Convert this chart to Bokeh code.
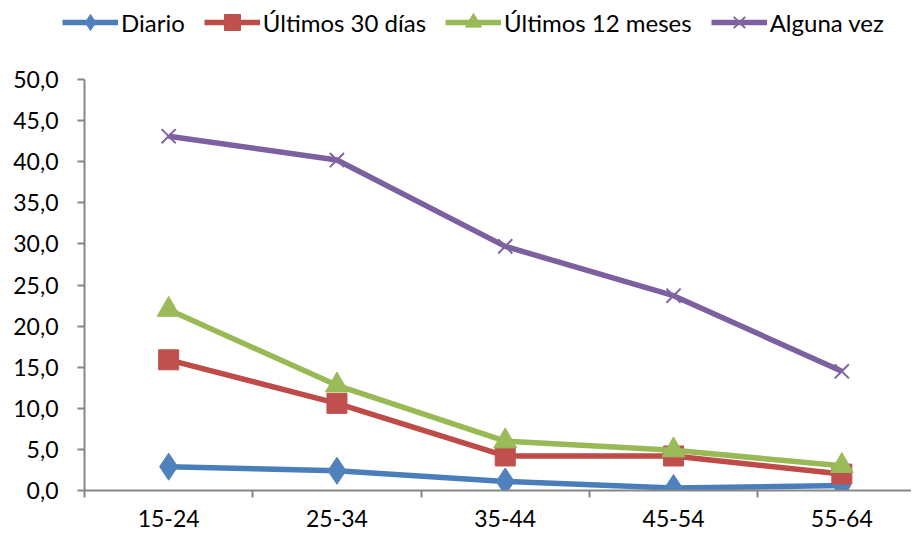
from bokeh.plotting import figure
from bokeh.layouts import column, row
from bokeh.models import (Range1d, FixedTicker, CustomJSTickFormatter, Legend, LegendItem,
                          ColumnDataSource)
from bokeh.embed import file_html
from bokeh.resources import INLINE

categories = ["15-24", "25-34", "35-44", "45-54", "55-64"]
diario = [2.9, 2.4, 1.1, 0.3, 0.6]
ultimos_30 = [15.9, 10.6, 4.2, 4.2, 2.0]
ultimos_12 = [22.0, 12.8, 6.0, 4.9, 3.0]
alguna_vez = [43.1, 40.2, 29.7, 23.7, 14.5]
y_ticks = [0, 5, 10, 15, 20, 25, 30, 35, 40, 45, 50]

FONT = "Lato"
FS = "23px"
LEG_FS = "24px"
LEG_H = 44

x_idx = list(range(len(categories)))

p = figure(width=911, height=532 - LEG_H, output_backend="svg", toolbar_location=None,
           x_range=Range1d(-0.5, 4.414), y_range=Range1d(0, 50),
           min_border_left=84, min_border_right=0, min_border_top=79 - LEG_H,
           min_border_bottom=42)
p.outline_line_color = None
p.grid.visible = False
p.background_fill_color = "white"
p.border_fill_color = "white"

# x axis
p.xaxis.ticker = FixedTicker(ticks=x_idx, minor_ticks=[i + 0.5 for i in range(-1, 5)])
p.xaxis.major_label_overrides = {i: c for i, c in enumerate(categories)}
p.xaxis.major_tick_out = 0
p.xaxis.major_tick_in = 0
p.xaxis.minor_tick_out = 7
p.xaxis.minor_tick_in = 0
p.xaxis.minor_tick_line_color = "#868686"
p.xaxis.minor_tick_line_width = 2
p.xaxis.axis_line_color = "#868686"
p.xaxis.axis_line_width = 2
p.xaxis.major_label_standoff = 12

# y axis
p.yaxis.ticker = FixedTicker(ticks=y_ticks, minor_ticks=[])
p.yaxis.formatter = CustomJSTickFormatter(code="return tick.toFixed(1).replace('.', ',');")
p.yaxis.major_tick_out = 7
p.yaxis.major_tick_in = 0
p.yaxis.major_tick_line_color = "#868686"
p.yaxis.major_tick_line_width = 2
p.yaxis.minor_tick_line_color = None
p.yaxis.axis_line_color = "#868686"
p.yaxis.axis_line_width = 2
p.yaxis.major_label_standoff = 19

for ax in (p.xaxis, p.yaxis):
    ax.major_label_text_font = FONT
    ax.major_label_text_font_size = FS
    ax.major_label_text_color = "black"

series = [
    ("Diario", diario, "#4A7EBB", "#4F81BD", "diamond", 27),
    ("Últimos 30 días", ultimos_30, "#BE4B48", "#C0504D", "square", 20),
    ("Últimos 12 meses", ultimos_12, "#98B954", "#9BBB59", "triangle", 23),
    ("Alguna vez", alguna_vez, "#7D60A0", "#8064A2", "x", 20),
]

# legend strip above the chart
lf = figure(width=911, height=LEG_H, output_backend="svg", toolbar_location=None,
            x_range=Range1d(0, 1), y_range=Range1d(0, 1),
            x_axis_location=None, y_axis_location=None,
            min_border_left=0, min_border_right=0, min_border_top=0, min_border_bottom=0)
lf.outline_line_color = None
lf.grid.visible = False
lf.border_fill_color = "white"
lf.background_fill_color = "white"

items = []
for name, vals, lc, mc, marker, size in series:
    src = ColumnDataSource(dict(x=x_idx, y=vals))
    p.line("x", "y", source=src, line_color=lc, line_width=5.5)
    if marker == "x":
        p.scatter("x", "y", source=src, marker="x", size=size, line_color=mc, line_width=2)
    else:
        p.scatter("x", "y", source=src, marker=marker, size=size, fill_color=mc, line_color=mc)
    l1 = lf.line("x", "y", source=src, line_color=lc, line_width=5.5, visible=False)
    if marker == "x":
        l2 = lf.scatter("x", "y", source=src, marker="x", line_color=mc, line_width=2, visible=False)
    else:
        l2 = lf.scatter("x", "y", source=src, marker=marker, fill_color=mc, line_color=mc, visible=False)
    items.append(LegendItem(label=name, renderers=[l1, l2]))

legend = Legend(items=items, orientation="horizontal", location=(62, 2),
                label_text_font=FONT, label_text_font_size=LEG_FS, label_text_color="black",
                glyph_width=56, glyph_height=40, label_height=40, label_standoff=3, spacing=19,
                padding=0, margin=0, border_line_color=None, background_fill_alpha=0,
                inactive_fill_alpha=0, click_policy="none")
lf.add_layout(legend, "center")

layout = column(row(lf), p, spacing=0)
open("out.html", "w").write(file_html(layout, INLINE))
